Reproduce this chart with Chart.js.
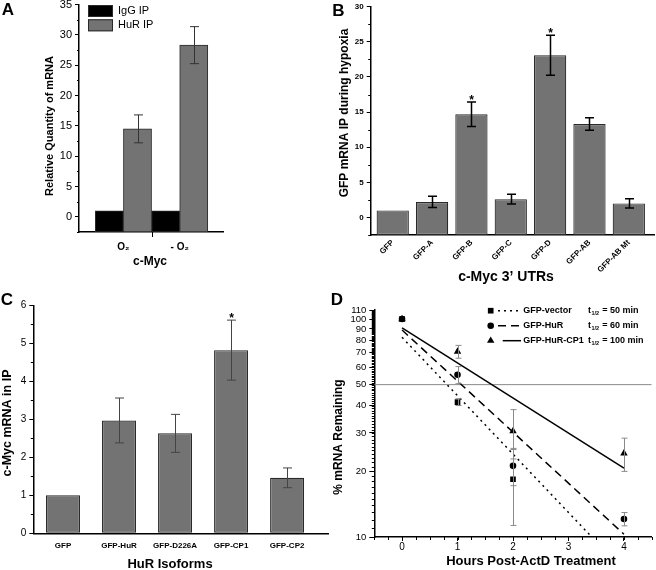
<!DOCTYPE html>
<html>
<head>
<meta charset="utf-8">
<script src="https://cdn.jsdelivr.net/npm/chart.js"></script>
<style>
  html, body { margin: 0; padding: 0; background: #fff; }
  #wrap { position: relative; width: 656px; height: 570px; overflow: hidden; background: #fff; }
  #wrap canvas { position: absolute; left: 0; top: 0; }
</style>
</head>
<body>
<div id="wrap">
  <canvas id="chartA" width="656" height="570"></canvas>
  <canvas id="chartB" width="656" height="570"></canvas>
  <canvas id="chartC" width="656" height="570"></canvas>
  <canvas id="chartD" width="656" height="570"></canvas>
</div>
<script>
// ---- data ----
// A: c-Myc RNA IP
const aCategories = ['O₂', '- O₂'];
const aSeries = ['IgG IP', 'HuR IP'];
const aIgG = [1, 1];
const aHuR = [14.5, 28.3];
const aHuRErr = [2.3, 3.05];
const aYTicks = [0, 5, 10, 15, 20, 25, 30, 35];

// B: GFP reporters with c-Myc 3' UTR pieces
const bCategories = ['GFP', 'GFP-A', 'GFP-B', 'GFP-C', 'GFP-D', 'GFP-AB', 'GFP-AB Mt'];
const bValues = [1, 2.2, 14.7, 2.6, 23.1, 13.3, 2.0];
const bErr = [0, 0.8, 1.75, 0.7, 2.85, 0.9, 0.65];
const bStars = ['', '', '*', '', '*', '', ''];
const bYTicks = [0, 5, 10, 15, 20, 25, 30];

// C: HuR isoforms
const cCategories = ['GFP', 'GFP-HuR', 'GFP-D226A', 'GFP-CP1', 'GFP-CP2'];
const cValues = [1, 2.97, 2.63, 4.82, 1.46];
const cErr = [0, 0.59, 0.5, 0.79, 0.26];
const cStars = ['', '', '', '*', ''];
const cYTicks = [0, 1, 2, 3, 4, 5, 6];

// D: mRNA decay after ActD
const dSeries = ['GFP-vector', 'GFP-HuR', 'GFP-HuR-CP1'];
const dHalfLives = [50, 60, 100];
const dHours = [0, 1, 2, 4];
const dVector = [100, 41.6, 18.4, null];
const dVectorErr = [0, 1.5, 7.1, 0];
const dHuR = [100, 55.5, 21.2, 12.1];
const dHuRErr = [0, 5, 4, 0.85];
const dCP1 = [100, 70.9, 30.6, 24.2];
const dCP1Err = [0, 4.8, 7.8, 4.2];
const dFitX = [[0, 3.42], [0, 4], [0, 4]];
const dFitY = [[82.4, 10], [89, 10.3], [91, 20.7]];
const dHalfLevel = 50;
const dXTicks = [0, 1, 2, 3, 4];
const dYTicks = [10, 20, 30, 40, 50, 60, 70, 80, 90, 100, 110];

// ---- styles ----
const FONT = '"Liberation Sans", Arial, sans-serif';
const BAR_GRAY = '#737373';
const BAR_EDGE = '#2a2a2a';
const dMarkers = ['rect', 'circle', 'triangle'];
const dRadius = [4, 3.3, 4.3];
const dDashes = [[2, 4], [8, 5], []];
const dPointOrder = [2, 0, 1];   // circle ends up on top at t = 0

Chart.defaults.font.family = FONT;
Chart.defaults.color = '#000';
Chart.defaults.animation = false;
Chart.defaults.plugins.legend.display = false;
Chart.defaults.plugins.tooltip.enabled = false;

// fixed-size axis boxes so the plot areas land where the figure has them
function fixBox(size) {
  return s => {
    if (s.isHorizontal()) s.height = size; else s.width = size;
    s.paddingLeft = s.paddingRight = s.paddingTop = s.paddingBottom = 0;
  };
}

function axis(o) {
  return {
    type: o.type || 'linear',
    min: o.min,
    max: o.max,
    offset: false,
    afterFit: fixBox(o.box),
    afterBuildTicks: s => { s.ticks = o.ticks.map(v => ({ value: v })); },
    ticks: {
      font: o.font,
      padding: o.pad,
      autoSkip: false,
      minRotation: o.rot || 0,
      maxRotation: o.rot || 0,
      callback: o.labels ? (v => o.labels[v - 1]) : (v => String(v))
    },
    grid: { offset: false, drawOnChartArea: false, drawTicks: o.tick > 0, tickLength: o.tick || 0, color: '#000', lineWidth: 1 },
    border: { color: '#000', width: 1.5 }
  };
}

// area: [left, top, right, bottom] of the plot in page pixels
function layoutFor(area, yBox, xBox) {
  return { padding: { left: area[0] - yBox, top: area[1], right: 656 - area[2], bottom: 570 - area[3] - xBox } };
}

const errorBars = {
  id: 'errorBars',
  afterDatasetsDraw(chart) {
    const ctx = chart.ctx;
    const ys = chart.scales.y;
    chart.data.datasets.forEach((ds, i) => {
      if (!ds.errors) return;
      const meta = chart.getDatasetMeta(i);
      ctx.save();
      ctx.strokeStyle = ds.errorColor || '#000';
      ctx.lineWidth = ds.errorWidth || 1;
      meta.data.forEach((el, j) => {
        const raw = ds.data[j];
        const v = raw !== null && typeof raw === 'object' ? raw.y : raw;
        const e = ds.errors[j];
        if (v == null) return;
        const x = Math.round(el.x) + 0.5;
        const cap = ds.errorCap || 4;
        const top = ys.getPixelForValue(v + (e || 0));
        if (e) {
          const bot = ys.getPixelForValue(v - e);
          ctx.beginPath();
          ctx.moveTo(x, top); ctx.lineTo(x, bot);
          ctx.moveTo(x - cap, top); ctx.lineTo(x + cap, top);
          ctx.moveTo(x - cap, bot); ctx.lineTo(x + cap, bot);
          ctx.stroke();
        }
        if (ds.stars && ds.stars[j]) {
          ctx.fillStyle = '#000';
          ctx.font = 'bold 12px ' + FONT;
          ctx.textAlign = 'center';
          ctx.textBaseline = 'alphabetic';
          ctx.fillText(ds.stars[j], x, top + 2);
        }
      });
      ctx.restore();
    });
  }
};
Chart.register(errorBars);

function minorTicks(spec) {
  return {
    id: 'minorTicks',
    afterDraw(chart) {
      const ctx = chart.ctx, a = chart.chartArea;
      ctx.save();
      ctx.strokeStyle = '#000';
      ctx.lineWidth = 1;
      ctx.beginPath();
      ['x', 'y'].forEach(id => {
        const o = spec[id];
        if (!o) return;
        const sc = chart.scales[id];
        let vals = o.values;
        if (!vals) {
          vals = [];
          for (let k = 0; o.from + k * o.step <= sc.max + 1e-9; k++) vals.push(o.from + k * o.step);
        }
        vals.forEach(v => {
          const p = Math.round(sc.getPixelForValue(v)) + 0.5;
          if (id === 'y') { ctx.moveTo(a.left - o.len, p); ctx.lineTo(a.left, p); }
          else { ctx.moveTo(p, a.bottom); ctx.lineTo(p, a.bottom + o.len); }
        });
      });
      ctx.stroke();
      ctx.restore();
    }
  };
}

function texts(items) {
  return {
    id: 'texts',
    afterDraw(chart) {
      const ctx = chart.ctx;
      items.forEach(t => {
        ctx.save();
        ctx.font = t.font;
        ctx.fillStyle = '#000';
        ctx.textAlign = 'center';
        ctx.textBaseline = 'middle';
        ctx.translate(t.x, t.y);
        if (t.rot) ctx.rotate(t.rot);
        ctx.fillText(t.text, 0, 0);
        ctx.restore();
      });
    }
  };
}

// ---- A ----
const areaA = [79, 4.5, 223, 232];
new Chart(document.getElementById('chartA'), {
  type: 'bar',
  data: {
    datasets: [
      { label: aSeries[0], data: aIgG.map((v, i) => ({ x: i + 1, y: v })), backgroundColor: '#000',
        borderColor: BAR_EDGE, borderWidth: 1, borderSkipped: false, base: -2.5 },
      { label: aSeries[1], data: aHuR.map((v, i) => ({ x: i + 1, y: v })), backgroundColor: BAR_GRAY,
        borderColor: BAR_EDGE, borderWidth: 1, borderSkipped: false, base: -2.5,
        errors: aHuRErr, errorColor: '#333', errorCap: 4.5 }
    ]
  },
  options: {
    responsive: false,
    barPercentage: 1,
    categoryPercentage: 1,
    layout: layoutFor(areaA, 50, 40),
    scales: {
      x: axis({ min: 0.21, max: 2.77, box: 40, ticks: [1, 2], labels: aCategories, font: { size: 10, weight: 'bold' }, pad: 9, tick: 0 }),
      y: axis({ min: -2.5, max: 35, box: 50, ticks: aYTicks, font: { size: 11 }, pad: 3, tick: 4 })
    }
  },
  plugins: [
    minorTicks({ y: { from: -2.5, step: 5, len: 2 }, x: { values: aCategories.slice(1).map((c, i) => i + 1.5), len: 5 } }),
    texts([
      { text: 'A', x: 8, y: 10, font: 'bold 17px ' + FONT },
      { text: 'Relative Quantity of mRNA', x: 50, y: 126, rot: -Math.PI / 2, font: 'bold 11px ' + FONT },
      { text: 'c-Myc', x: 150, y: 262, font: 'bold 12px ' + FONT }
    ]),
    {
      id: 'legendA',
      afterDraw(chart) {
        const ctx = chart.ctx;
        chart.data.datasets.forEach((ds, i) => {
          const y = 5 + i * 14.3;
          ctx.fillStyle = ds.backgroundColor;
          ctx.fillRect(88, y, 25, 12);
          ctx.strokeStyle = BAR_EDGE;
          ctx.lineWidth = 1;
          ctx.strokeRect(88.5, y + 0.5, 24, 11);
          ctx.fillStyle = '#000';
          ctx.font = '11px ' + FONT;
          ctx.textAlign = 'left';
          ctx.textBaseline = 'middle';
          ctx.fillText(ds.label, 118, y + 6);
        });
      }
    }
  ]
});

// ---- B ----
const areaB = [370.7, 6.7, 654, 235];
new Chart(document.getElementById('chartB'), {
  type: 'bar',
  data: {
    datasets: [{
      label: 'GFP mRNA IP', data: bValues.map((v, i) => ({ x: i + 1, y: v })),
      backgroundColor: BAR_GRAY, borderColor: BAR_EDGE, borderWidth: 1.2, borderSkipped: false, base: -2.5,
      errors: bErr, stars: bStars, errorColor: '#000', errorWidth: 1.5, errorCap: 4.5
    }]
  },
  options: {
    responsive: false,
    barPercentage: 0.82,
    categoryPercentage: 1,
    layout: layoutFor(areaB, 50, 40),
    scales: {
      x: axis({ min: 0.44, max: 7.64, box: 40, ticks: bCategories.map((c, i) => i + 1), labels: bCategories, font: { size: 8, weight: 'bold' }, pad: 3, tick: 0, rot: 45 }),
      y: axis({ min: -2.5, max: 30, box: 50, ticks: bYTicks, font: { size: 8, weight: 'bold' }, pad: 3, tick: 4 })
    }
  },
  plugins: [
    minorTicks({ y: { from: -2.5, step: 5, len: 2.5 } }),
    texts([
      { text: 'B', x: 338.5, y: 11, font: 'bold 17px ' + FONT },
      { text: 'GFP mRNA IP during hypoxia', x: 345, y: 113, rot: -Math.PI / 2, font: 'bold 12px ' + FONT },
      { text: 'c-Myc 3’ UTRs', x: 506, y: 277, font: 'bold 14px ' + FONT }
    ])
  ]
});

// ---- C ----
const areaC = [33.3, 305.3, 328, 533.3];
new Chart(document.getElementById('chartC'), {
  type: 'bar',
  data: {
    datasets: [{
      label: 'c-Myc mRNA in IP', data: cValues.map((v, i) => ({ x: i + 1, y: v })),
      backgroundColor: BAR_GRAY, borderColor: BAR_EDGE, borderWidth: 1.2, borderSkipped: false,
      errors: cErr, stars: cStars, errorColor: '#444', errorWidth: 1, errorCap: 4.5
    }]
  },
  options: {
    responsive: false,
    barPercentage: 0.607,
    categoryPercentage: 1,
    layout: layoutFor(areaC, 33.3, 36.7),
    scales: {
      x: axis({ min: 0.47, max: 5.73, box: 36.7, ticks: cCategories.map((c, i) => i + 1), labels: cCategories, font: { size: 8, weight: 'bold' }, pad: 8, tick: 0 }),
      y: axis({ min: 0, max: 6, box: 33.3, ticks: cYTicks, font: { size: 10 }, pad: 3, tick: 4 })
    }
  },
  plugins: [
    minorTicks({ y: { from: 0.5, step: 1, len: 2.5 } }),
    texts([
      { text: 'C', x: 7, y: 300, font: 'bold 17px ' + FONT },
      { text: 'c-Myc mRNA in IP', x: 8, y: 423, rot: -Math.PI / 2, font: 'bold 12.5px ' + FONT },
      { text: 'HuR Isoforms', x: 170, y: 564, font: 'bold 13px ' + FONT }
    ])
  ]
});

// ---- D ----
const areaD = [374.3, 310, 655, 537];
const dXMin = -0.5, dXMax = 4.5;
const dValues = [dVector, dHuR, dCP1];
const dErrors = [dVectorErr, dHuRErr, dCP1Err];
new Chart(document.getElementById('chartD'), {
  type: 'scatter',
  data: {
    datasets: [
      { label: '50%', data: [{ x: dXMin, y: dHalfLevel }, { x: dXMax, y: dHalfLevel }], showLine: true,
        borderColor: '#8a8a8a', borderWidth: 1, pointRadius: 0, order: 10 },
      ...dSeries.map((name, i) => ({
        label: name + ' fit', data: dFitX[i].map((x, j) => ({ x: x, y: dFitY[i][j] })), showLine: true,
        borderColor: '#000', borderWidth: 1.5, borderDash: dDashes[i], pointRadius: 0, order: 5
      })),
      ...dSeries.map((name, i) => ({
        label: name, data: dHours.map((h, j) => ({ x: h, y: dValues[i][j] })),
        pointStyle: dMarkers[i], pointRadius: dRadius[i], backgroundColor: '#000', borderColor: '#000', borderWidth: 0,
        errors: dErrors[i], errorColor: '#8a8a8a', errorCap: 3, order: dPointOrder[i]
      }))
    ]
  },
  options: {
    responsive: false,
    layout: layoutFor(areaD, 50, 33),
    scales: {
      x: axis({ min: dXMin, max: dXMax, box: 33, ticks: dXTicks, font: { size: 10 }, pad: 0, tick: 4 }),
      y: axis({ type: 'logarithmic', min: 10, max: 110, box: 50, ticks: dYTicks, font: { size: 9.5 }, pad: 3, tick: 5 })
    }
  },
  plugins: [
    minorTicks({ y: { from: 10, step: 1, len: 2.5 }, x: { from: -0.5, step: 0.25, len: 3 } }),
    texts([
      { text: 'D', x: 337, y: 300, font: 'bold 17px ' + FONT },
      { text: '% mRNA Remaining', x: 338.5, y: 437, rot: -Math.PI / 2, font: 'bold 12px ' + FONT },
      { text: 'Hours Post-ActD Treatment', x: 531, y: 561, font: 'bold 13px ' + FONT }
    ]),
    {
      id: 'legendD',
      afterDraw(chart) {
        const ctx = chart.ctx;
        dSeries.forEach((name, i) => {
          const y = 310.7 + i * 15;
          ctx.save();
          ctx.fillStyle = '#000';
          ctx.beginPath();
          const r = dRadius[i];
          if (dMarkers[i] === 'rect') {
            const s = r * Math.SQRT1_2;
            ctx.rect(490.7 - s, y - s, 2 * s, 2 * s);
          } else if (dMarkers[i] === 'circle') {
            ctx.arc(490.7, y, r, 0, Math.PI * 2);
          } else {
            ctx.moveTo(490.7, y - r);
            ctx.lineTo(490.7 + r * 0.866, y + r * 0.5);
            ctx.lineTo(490.7 - r * 0.866, y + r * 0.5);
            ctx.closePath();
          }
          ctx.fill();
          ctx.strokeStyle = '#000';
          ctx.lineWidth = 1.5;
          ctx.setLineDash(dDashes[i]);
          ctx.beginPath();
          ctx.moveTo(i === 2 ? 502.7 : 498, y);
          ctx.lineTo(521, y);
          ctx.stroke();
          ctx.setLineDash([]);
          ctx.font = 'bold 9px ' + FONT;
          ctx.textAlign = 'left';
          ctx.textBaseline = 'middle';
          ctx.fillText(name, 523.3, y);
          ctx.fillText('t', 588, y);
          const tw = ctx.measureText('t').width;
          ctx.font = 'bold 5.5px ' + FONT;
          ctx.fillText('1/2', 588 + tw + 0.5, y + 3);
          const sw = ctx.measureText('1/2').width;
          ctx.font = 'bold 9px ' + FONT;
          ctx.fillText(' = ' + dHalfLives[i] + ' min', 588 + tw + sw + 1, y);
          ctx.restore();
        });
      }
    }
  ]
});
</script>
</body>
</html>
